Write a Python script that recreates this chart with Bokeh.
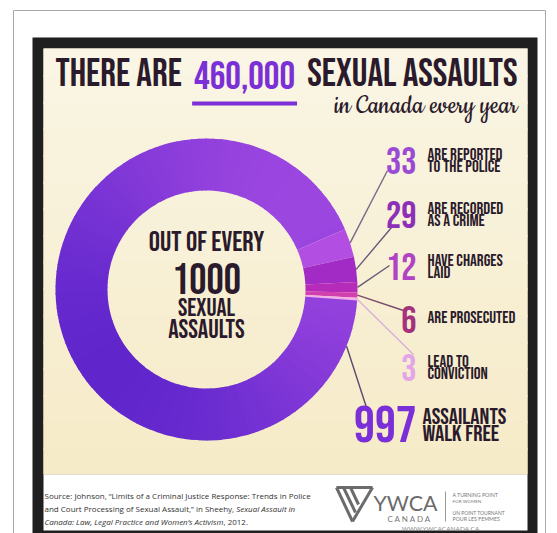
import subprocess
import numpy as np
from bokeh.plotting import figure
from bokeh.models import Range1d
from bokeh.core.properties import value
from bokeh.embed import file_html
from bokeh.resources import INLINE

# ---------------- data ----------------
headline_pre = "THERE ARE"
headline_total = "460,000"
headline_post = "SEXUAL ASSAULTS"
subtitle = "in Canada every year"
center_lines = ["OUT OF EVERY", "1000", "SEXUAL", "ASSAULTS"]
stage_counts = [33, 29, 12, 6, 3]
stage_labels = [["ARE REPORTED", "TO THE POLICE"],
                ["ARE RECORDED", "AS A CRIME"],
                ["HAVE CHARGES", "LAID"],
                ["ARE PROSECUTED"],
                ["LEAD TO", "CONVICTION"]]
free_count = 997
free_label = ["ASSAILANTS", "WALK FREE"]
source_line1 = "Source: Johnson, \u201cLimits of a Criminal Justice Response: Trends in Police"
source_line2a = "and Court Processing of Sexual Assault,\u201d in Sheehy, "
source_line2b = "Sexual Assault in"
source_line3a = "Canada: Law, Legal Practice and Women\u2019s Activism"
source_line3b = ", 2012."
org_name = "YWCA"
org_country = "C A N A D A"
org_tag = ["A  TURNING  POINT", "FOR  WOMEN", "UN  POINT  TOURNANT", "POUR  LES  FEMMES"]
org_url = "WWW.YWCACANADA.CA"

# ---------------- fonts ----------------
def families():
    try:
        out = subprocess.run(["fc-list", ":", "family"], capture_output=True, text=True, timeout=20).stdout
    except Exception:
        return set()
    fams = set()
    for line in out.splitlines():
        for f in line.split(","):
            fams.add(f.strip())
    return fams

FAMS = families()

def pick(cands, default):
    for c in cands:
        if c in FAMS:
            return c
    return default

COND = pick(["Bebas Neue", "Oswald", "Fjalla One", "Archivo Narrow", "Asap Condensed"], "Liberation Sans")
COND_STYLE = "normal" if COND in ("Bebas Neue", "Fjalla One") else "bold"
SCRIPT = pick(["Cookie", "Satisfy", "Dancing Script", "Pacifico"], "Lato")
SCRIPT_STYLE = "normal" if SCRIPT != "Lato" else "italic"
SF = pick(["Open Sans", "Lato"], "DejaVu Sans")
LOGO = pick(["Lato", "Open Sans"], "DejaVu Sans")

def font_file(family, style):
    pat = family + (":italic" if style == "italic" else (":bold" if style == "bold" else ""))
    try:
        return subprocess.run(["fc-match", "-f", "%{file}", pat], capture_output=True,
                              text=True, timeout=10).stdout.strip()
    except Exception:
        return None

def measure(s, family, style, size):
    try:
        from PIL import ImageFont
        f = ImageFont.truetype(font_file(family, style), 100)
        return f.getlength(s) * size / 100.0
    except Exception:
        return 0.5 * size * len(s)

# baseline correction (em fraction) observed for the renderer
def boff(font):
    return 0.35 if font == "Bebas Neue" else 0.25

# ---------------- layout / style ----------------
W, H = 557, 533
def Y(py):
    return H - py

DARK = "#2a1a2b"
PURPLE = "#7b2fd6"
slice_colors = ["#b34ee3", "#a22bc6", "#b62bb8", "#d23fae", "#f2aee6"]
num_colors = ["#9b4bd3", "#8e2fb8", "#b044c4", "#a4327c", "#e4a5e8"]
line_colors = ["#7a6888", "#6a5878", "#6a5878", "#7a4a6a", "#d9b0d9"]

p = figure(width=W, height=H, x_range=Range1d(0, W), y_range=Range1d(0, H),
           output_backend="svg", toolbar_location=None, min_border=0,
           x_axis_location=None, y_axis_location=None)
p.grid.visible = False
p.outline_line_color = None
p.background_fill_color = "white"
p.border_fill_color = "white"

def hexrgb(h):
    h = h.lstrip("#")
    return np.array([int(h[i:i + 2], 16) for i in (0, 2, 4)], dtype=float)

def lerp(c1, c2, t):
    a, b = hexrgb(c1), hexrgb(c2)
    c = a + (b - a) * t
    return "#%02x%02x%02x" % tuple(int(round(v)) for v in c)

# frames
p.quad(left=13, right=545, top=Y(10), bottom=Y(560), fill_color=None, line_color="#a8a8a8", line_width=1)
p.quad(left=32, right=537, top=Y(37), bottom=Y(560), fill_color="#1f1f1f", line_color=None)
p.quad(left=43, right=527, top=Y(48), bottom=Y(474), fill_color="#f8f0d6", line_color=None)
nb = 16
edges = np.linspace(48, 474, nb + 1)
for i in range(nb):
    col = lerp("#faf5e4", "#f6ebc8", i / (nb - 1))
    p.quad(left=43, right=527, top=Y(edges[i]), bottom=Y(min(474, edges[i + 1] + 2)),
           fill_color=col, line_color=None)
p.quad(left=43, right=527, top=Y(474), bottom=Y(530), fill_color="white", line_color=None)

# ---------------- donut ----------------
cx, cy = 206, 289
r_in, r_out = 99, 151
all_vals = stage_counts + [free_count]
total = float(sum(all_vals))
start_deg = 23.5
ang = [v / total * 360.0 for v in all_vals]
bounds = [start_deg]
for a in ang[:-1]:
    bounds.append(bounds[-1] - a)
main_lo = bounds[-1]
main_hi = start_deg - 360.0
nsub = 120
sub = np.linspace(main_hi, main_lo, nsub + 1)
for i in range(nsub):
    mid = np.radians((sub[i] + sub[i + 1]) / 2)
    t = (np.cos(mid - np.radians(40)) + 1) / 2
    p.annular_wedge(x=cx, y=Y(cy), inner_radius=r_in, outer_radius=r_out,
                    start_angle=np.radians(sub[i]), end_angle=np.radians(sub[i + 1] + 0.4),
                    fill_color=lerp("#6026cc", "#9c46e0", t), line_color=None)
for i, v in enumerate(stage_counts):
    p.annular_wedge(x=cx, y=Y(cy), inner_radius=r_in, outer_radius=r_out,
                    start_angle=np.radians(bounds[i + 1]), end_angle=np.radians(bounds[i]),
                    fill_color=slice_colors[i], line_color=None)

# leader lines
row_base = [173, 227, 279, 332, 380]
line_end = [(387, 170), (391, 227), (389, 265), (403, 310), (413, 354)]
for i in range(len(stage_counts)):
    mid = np.radians((bounds[i] + bounds[i + 1]) / 2)
    x0 = cx + r_out * np.cos(mid)
    y0 = cy - r_out * np.sin(mid)
    p.segment(x0=x0, y0=Y(y0), x1=line_end[i][0], y1=Y(line_end[i][1]),
              line_color=line_colors[i], line_width=1.4)
fa = np.radians(-22)
p.segment(x0=cx + r_out * np.cos(fa), y0=Y(cy - r_out * np.sin(fa)), x1=366, y1=Y(407),
          line_color="#5a4a70", line_width=1.4)

# ---------------- text helper ----------------
def txt(x, y, s, size, color, font=COND, style=None, align="left"):
    if style is None:
        style = COND_STYLE
    yy = y - boff(font) * size
    p.text(x=[x], y=[Y(yy)], text=[s], text_font=value(font), text_font_size=value(f"{size:.2f}px"),
           text_font_style=style, text_color=color, text_align=align, text_baseline="alphabetic")

def fit(s, font, style, size, width):
    w = measure(s, font, style, size)
    return size * width / w if w > 0 else size

# headline: three pieces laid out in sequence across 55..517 with equal gaps
tsize = 39
pieces = [headline_pre, headline_total, headline_post]
widths = [measure(s, COND, COND_STYLE, tsize) for s in pieces]
gap = max(6.0, (462 - sum(widths)) / 2.0)
xs = [55.0]
for w in widths[:-1]:
    xs.append(xs[-1] + w + gap)
tb = 88
txt(xs[0], tb, pieces[0], tsize, DARK)
txt(xs[1], tb, pieces[1], tsize, PURPLE)
txt(xs[2], tb, pieces[2], tsize, DARK)
p.segment(x0=xs[1] - 2, y0=Y(103), x1=xs[1] + widths[1] + 2, y1=Y(103), line_color=PURPLE, line_width=4)
sub_size = min(30, fit(subtitle, SCRIPT, SCRIPT_STYLE, 26, 183))
txt(517, 113, subtitle, sub_size, DARK, font=SCRIPT, style=SCRIPT_STYLE, align="right")

# center
txt(cx, 252, center_lines[0], 28, DARK, align="center")
txt(cx, 293, center_lines[1], 43, DARK, align="center")
txt(cx, 317, center_lines[2], 25, DARK, align="center")
txt(cx, 339, center_lines[3], 26, DARK, align="center")

# stage numbers + labels
for i, v in enumerate(stage_counts):
    b = row_base[i]
    txt(416, b, str(v), 38, num_colors[i], align="right")
    lab = stage_labels[i]
    if len(lab) == 2:
        txt(427, b - 13, lab[0], 17, DARK)
        txt(427, b - 1, lab[1], 17, DARK)
    else:
        txt(427, b - 9, lab[0], 17, DARK)
txt(416, 442, str(free_count), 52, "#7b2fd8", align="right")
txt(422, 425, free_label[0], 23, DARK)
txt(422, 442, free_label[1], 23, DARK)

# source
SC = "#333333"
txt(44, 497, source_line1, 8, SC, font=SF, style="normal")
txt(44, 510, source_line2a, 8, SC, font=SF, style="normal")
x2 = 44 + measure(source_line2a, SF, "normal", 8)
txt(x2, 510, source_line2b, 8, SC, font=SF, style="italic")
txt(44, 523, source_line3a, 8, SC, font=SF, style="italic")
x3 = 44 + measure(source_line3a, SF, "italic", 8)
txt(x3, 523, source_line3b, 8, SC, font=SF, style="normal")

# logo
LG = "#6b6b6b"
for (x0, y0, x1, y1) in [(336, 487, 372, 487), (372, 487, 352, 521), (336, 487, 352, 521),
                         (343, 487, 355, 512), (350, 487, 358, 504)]:
    p.segment(x0=x0, y0=Y(y0), x1=x1, y1=Y(y1), line_color=LG, line_width=3)
ysz = fit(org_name, LOGO, "normal", 26, 64)
txt(405, 508, org_name, ysz, LG, font=LOGO, style="normal", align="center")
csz = fit(org_country, LOGO, "normal", 7, 54)
txt(409, 520, org_country, min(csz, 8), "#777777", font=LOGO, style="normal", align="center")
p.segment(x0=445, y0=Y(491), x1=445, y1=Y(521), line_color="#9a9a9a", line_width=1)
for k, s in enumerate(org_tag):
    tsz = fit(s, LOGO, "normal", 5.5, [48, 30, 55, 50][k])
    txt(452, [496, 502, 514, 520][k], s, min(tsz, 6), "#777777", font=LOGO, style="normal")
txt(440, 530, org_url, 6.5, "#8a8a8a", font=LOGO, style="normal", align="center")

open("out.html", "w").write(file_html(p, INLINE))
